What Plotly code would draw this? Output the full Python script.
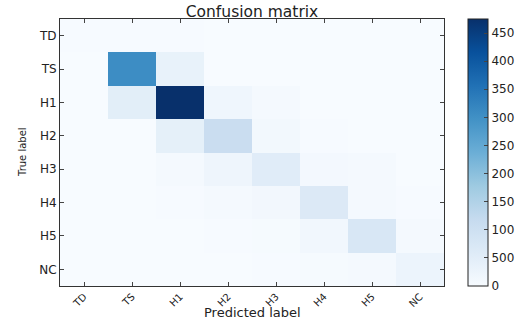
import plotly.graph_objects as go

labels = ["TD", "TS", "H1", "H2", "H3", "H4", "H5", "NC"]
# rows = true label, cols = predicted label
row_TD = [3, 3, 2, 1, 1, 0, 0, 0]
row_TS = [0, 305, 35, 1, 0, 0, 0, 0]
row_H1 = [0, 50, 475, 18, 6, 1, 0, 0]
row_H2 = [0, 0, 42, 110, 12, 2, 1, 0]
row_H3 = [0, 0, 6, 22, 55, 10, 6, 1]
row_H4 = [0, 0, 3, 8, 13, 65, 8, 2]
row_H5 = [0, 0, 1, 2, 5, 14, 75, 6]
row_NC = [0, 0, 1, 1, 2, 4, 8, 25]
z = [row_TD, row_TS, row_H1, row_H2, row_H3, row_H4, row_H5, row_NC]

cbar_vals = [0, 50, 100, 150, 200, 250, 300, 350, 400, 450]
cbar_text = ["0", "500", "100", "150", "200", "250", "300", "350", "400", "450"]

blues = [
    [0.0, "#f7fbff"], [0.125, "#deebf7"], [0.25, "#c6dbef"], [0.375, "#9ecae1"],
    [0.5, "#6baed6"], [0.625, "#4292c6"], [0.75, "#2171b5"], [0.875, "#08519c"],
    [1.0, "#08306b"],
]

fig = go.Figure(go.Heatmap(
    z=z, x=labels, y=labels, colorscale=blues, zmin=0, zmax=475,
    colorbar=dict(
        x=(468 - 60) / 384, xanchor="left", xref="paper",
        y=0, yanchor="bottom", len=1, lenmode="fraction",
        thickness=20, thicknessmode="pixels",
        outlinewidth=1, outlinecolor="#222",
        tickvals=cbar_vals, ticktext=cbar_text,
        ticks="inside", ticklen=4, tickcolor="#444",
        tickfont=dict(family="DejaVu Sans", size=12, color="#222"),
        xpad=0, ypad=0,
    ),
))

fig.update_layout(
    width=516, height=322,
    margin=dict(l=60, r=72, t=19, b=36, autoexpand=False),
    paper_bgcolor="white", plot_bgcolor="white",
    font=dict(family="DejaVu Sans", size=12, color="#222"),
    title=dict(text="Confusion matrix", x=0.5, xref="paper", xanchor="center",
               y=1 - 11.5 / 322, yref="container", yanchor="middle",
               font=dict(size=15.5, color="#222")),
    annotations=[
        dict(text="Predicted label", xref="paper", yref="paper", x=0.5,
             y=-26.5 / 267, xanchor="center", yanchor="middle", showarrow=False,
             font=dict(size=13, color="#222")),
        dict(text="True label", xref="paper", yref="paper", x=-38 / 384,
             y=1 - 133 / 267, xanchor="center", yanchor="middle", showarrow=False,
             textangle=-90, font=dict(size=10, color="#222")),
    ],
)
fig.update_xaxes(
    tickangle=-45, ticks="inside", ticklen=4, tickcolor="#444",
    showline=True, linecolor="#333", linewidth=1, mirror="ticks",
    tickfont=dict(size=10), showgrid=False, automargin=False,
)
fig.update_yaxes(
    autorange="reversed", ticks="inside", ticklen=4, tickcolor="#444",
    showline=True, linecolor="#333", linewidth=1, mirror="ticks",
    tickfont=dict(size=12), showgrid=False, automargin=False,
)

fig.write_html("out.html", config={"displayModeBar": False},
               post_script="document.body.style.margin='0';")
